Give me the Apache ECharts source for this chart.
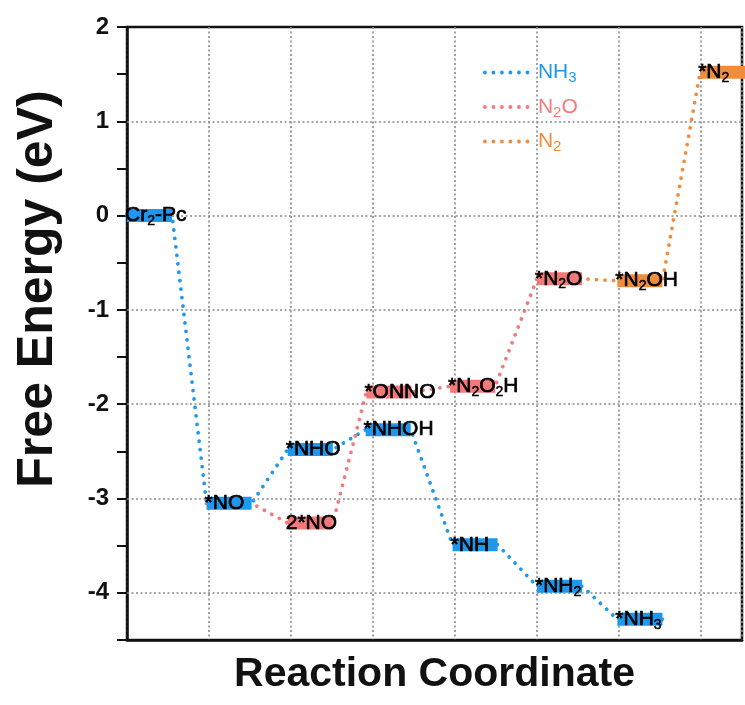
<!DOCTYPE html>
<html>
<head>
<meta charset="utf-8">
<title>Free energy diagram</title>
<script src="https://cdn.jsdelivr.net/npm/echarts@6/dist/echarts.min.js"></script>
<style>
  html, body { margin: 0; padding: 0; background: #fff; }
  #chart { width: 745px; height: 705px; }
</style>
</head>
<body>
<div id="chart"></div>
<script>
// pathway data: reaction coordinate position (x) and free energy in eV (y)
const nh3Steps = [0, 0.97, 1.96, 2.91, 3.97, 5.0, 5.98]
const nh3Energy = [0.0, -3.05, -2.48, -2.27, -3.49, -3.93, -4.28]
const nh3Labels = ['Cr{s|2}-Pc', '*NO', '*NHO', '*NHOH', '*NH', '*NH{s|2}', '*NH{s|3}']

// N2O path starts from *NO (drawn by the NH3 path)
const n2oSteps = [0.97, 1.96, 2.92, 3.94, 5.0]
const n2oEnergy = [-3.05, -3.26, -1.87, -1.81, -0.67]
const n2oLabels = [null, '2*NO', '*ONNO', '*N{s|2}O{s|2}H', '*N{s|2}O']

// N2 path starts from *N2O (drawn by the N2O path)
const n2Steps = [5.0, 5.98, 6.99]
const n2Energy = [-0.67, -0.69, 1.52]
const n2Labels = [null, '*N{s|2}OH', '*N{s|2}']

const yGridValues = [-4, -3, -2, -1, 0, 1]

const BLUE = '#1E98EE'
const PINK = '#F27A7A'
const ORANGE = '#F08C3C'
const FONT = '"Liberation Sans", Arial, sans-serif'
const LEVEL_W = 0.55 // width of each level bar in x units

// path points: each level is a short plateau, then a dotted jump to the next
function pathPoints(steps, energy) {
  const pts = []
  steps.forEach((s, i) => {
    pts.push([s, energy[i]])
    pts.push([s + LEVEL_W, energy[i]])
  })
  return pts
}

const levels = []
function addLevels(steps, energy, labels, color) {
  steps.forEach((s, i) => {
    if (labels[i] === null) return
    levels.push({ step: s, energy: energy[i], label: labels[i], color: color })
  })
}
addLevels(nh3Steps, nh3Energy, nh3Labels, BLUE)
addLevels(n2oSteps, n2oEnergy, n2oLabels, PINK)
addLevels(n2Steps, n2Energy, n2Labels, ORANGE)

const dotType = [0.01, 8.5]
function dotted(color) {
  return {
    color: color,
    width: 3.8,
    type: dotType,
    cap: 'round'
  }
}

const chart = echarts.init(document.getElementById('chart'))
chart.setOption({
  animation: false,
  textStyle: { fontFamily: FONT },
  grid: {
    left: 127,
    right: 3,
    top: 27,
    bottom: 65,
    show: true,
    borderColor: '#111',
    borderWidth: 2.5
  },
  legend: {
    orient: 'vertical',
    left: 478,
    top: 57,
    itemWidth: 46,
    itemHeight: 20,
    itemGap: 11,
    data: ['NH3', 'N2O', 'N2'],
    // line series legend icons carry a symbol; hide it, keep the dotted line
    itemStyle: { color: 'rgba(0,0,0,0)', borderColor: 'rgba(0,0,0,0)', borderWidth: 0 },
    lineStyle: { width: 3.8, type: dotType, cap: 'round' },
    formatter: function (name) {
      if (name === 'NH3') return '{a|NH}{as|3}'
      if (name === 'N2O') return '{b|N}{bs|2}{b|O}'
      return '{c|N}{cs|2}'
    },
    textStyle: {
      padding: [0, 0, 0, 2],
      rich: {
        a: { color: BLUE, fontSize: 21, fontFamily: FONT },
        as: { color: BLUE, fontSize: 15, fontFamily: FONT, padding: [11, 0, 0, 0] },
        b: { color: PINK, fontSize: 21, fontFamily: FONT },
        bs: { color: PINK, fontSize: 15, fontFamily: FONT, padding: [11, 0, 0, 0] },
        c: { color: ORANGE, fontSize: 21, fontFamily: FONT },
        cs: { color: ORANGE, fontSize: 15, fontFamily: FONT, padding: [11, 0, 0, 0] }
      }
    }
  },
  graphic: [
    {
      type: 'text',
      x: 38,
      y: 289,
      rotation: Math.PI / 2,
      style: {
        text: 'Free Energy (eV)',
        fontSize: 50,
        fontWeight: 'bold',
        fontFamily: FONT,
        fill: '#111',
        align: 'center',
        verticalAlign: 'middle'
      }
    }
  ],
  xAxis: {
    type: 'value',
    min: 0,
    max: 7.5,
    interval: 1,
    name: 'Reaction Coordinate',
    nameLocation: 'middle',
    nameGap: 14,
    nameTextStyle: {
      fontSize: 41,
      fontWeight: 'bold',
      color: '#111',
      fontFamily: FONT,
      verticalAlign: 'top'
    },
    axisLine: { show: true, onZero: false, lineStyle: { color: '#111', width: 2.5 } },
    axisTick: { show: false },
    axisLabel: { show: false },
    splitLine: {
      show: true,
      lineStyle: { color: '#8a8a8a', width: 1.6, type: [2, 2.5] }
    }
  },
  yAxis: {
    type: 'value',
    min: -4.5,
    max: 2,
    interval: 0.5,
    axisLine: { show: true, onZero: false, lineStyle: { color: '#111', width: 2.5 } },
    axisTick: { show: true, inside: false, length: 10, lineStyle: { color: '#111', width: 2 } },
    axisLabel: {
      margin: 18,
      fontSize: 24,
      fontWeight: 'bold',
      color: '#111',
      fontFamily: FONT,
      formatter: function (v) {
        return Number.isInteger(v) ? String(v) : ''
      }
    },
    splitLine: { show: false }
  },
  series: [
    {
      // horizontal grid lines at integer energies only
      name: 'grid',
      type: 'line',
      data: [],
      z: 1,
      silent: true,
      markLine: {
        silent: true,
        symbol: 'none',
        label: { show: false },
        lineStyle: { color: '#8a8a8a', width: 1.6, type: [2, 2.5] },
        data: yGridValues.map(v => ({ yAxis: v }))
      }
    },
    {
      name: 'NH3',
      type: 'line',
      z: 3,
      symbol: 'none',
      itemStyle: { color: BLUE },
      lineStyle: dotted(BLUE),
      data: pathPoints(nh3Steps, nh3Energy)
    },
    {
      name: 'N2O',
      type: 'line',
      z: 3,
      symbol: 'none',
      itemStyle: { color: PINK },
      lineStyle: dotted(PINK),
      data: pathPoints(n2oSteps, n2oEnergy)
    },
    {
      name: 'N2',
      type: 'line',
      z: 3,
      symbol: 'none',
      itemStyle: { color: ORANGE },
      lineStyle: dotted(ORANGE),
      data: pathPoints(n2Steps, n2Energy)
    },
    {
      // energy level bars with their labels
      name: 'levels',
      type: 'custom',
      z: 5,
      silent: true,
      data: levels.map(l => [l.step, l.energy]),
      renderItem: function (params, api) {
        const lv = levels[params.dataIndex]
        const p0 = api.coord([api.value(0), api.value(1)])
        const p1 = api.coord([api.value(0) + LEVEL_W, api.value(1)])
        return {
          type: 'group',
          children: [
            {
              type: 'rect',
              shape: { x: p0[0], y: p0[1] - 6.5, width: p1[0] - p0[0], height: 13 },
              style: { fill: lv.color }
            },
            {
              type: 'text',
              x: p0[0] - 2,
              y: p0[1],
              style: {
                text: lv.label,
                fill: '#000',
                stroke: '#000',
                lineWidth: 0.7,
                fontSize: 21,
                fontFamily: FONT,
                lineHeight: 22,
                align: 'left',
                verticalAlign: 'middle',
                rich: {
                  s: { fill: '#000', stroke: '#000', lineWidth: 0.5, fontSize: 14, fontFamily: FONT, lineHeight: 15, padding: [11, 0, 0, 0] }
                }
              }
            }
          ]
        }
      }
    }
  ]
})
</script>
</body>
</html>
